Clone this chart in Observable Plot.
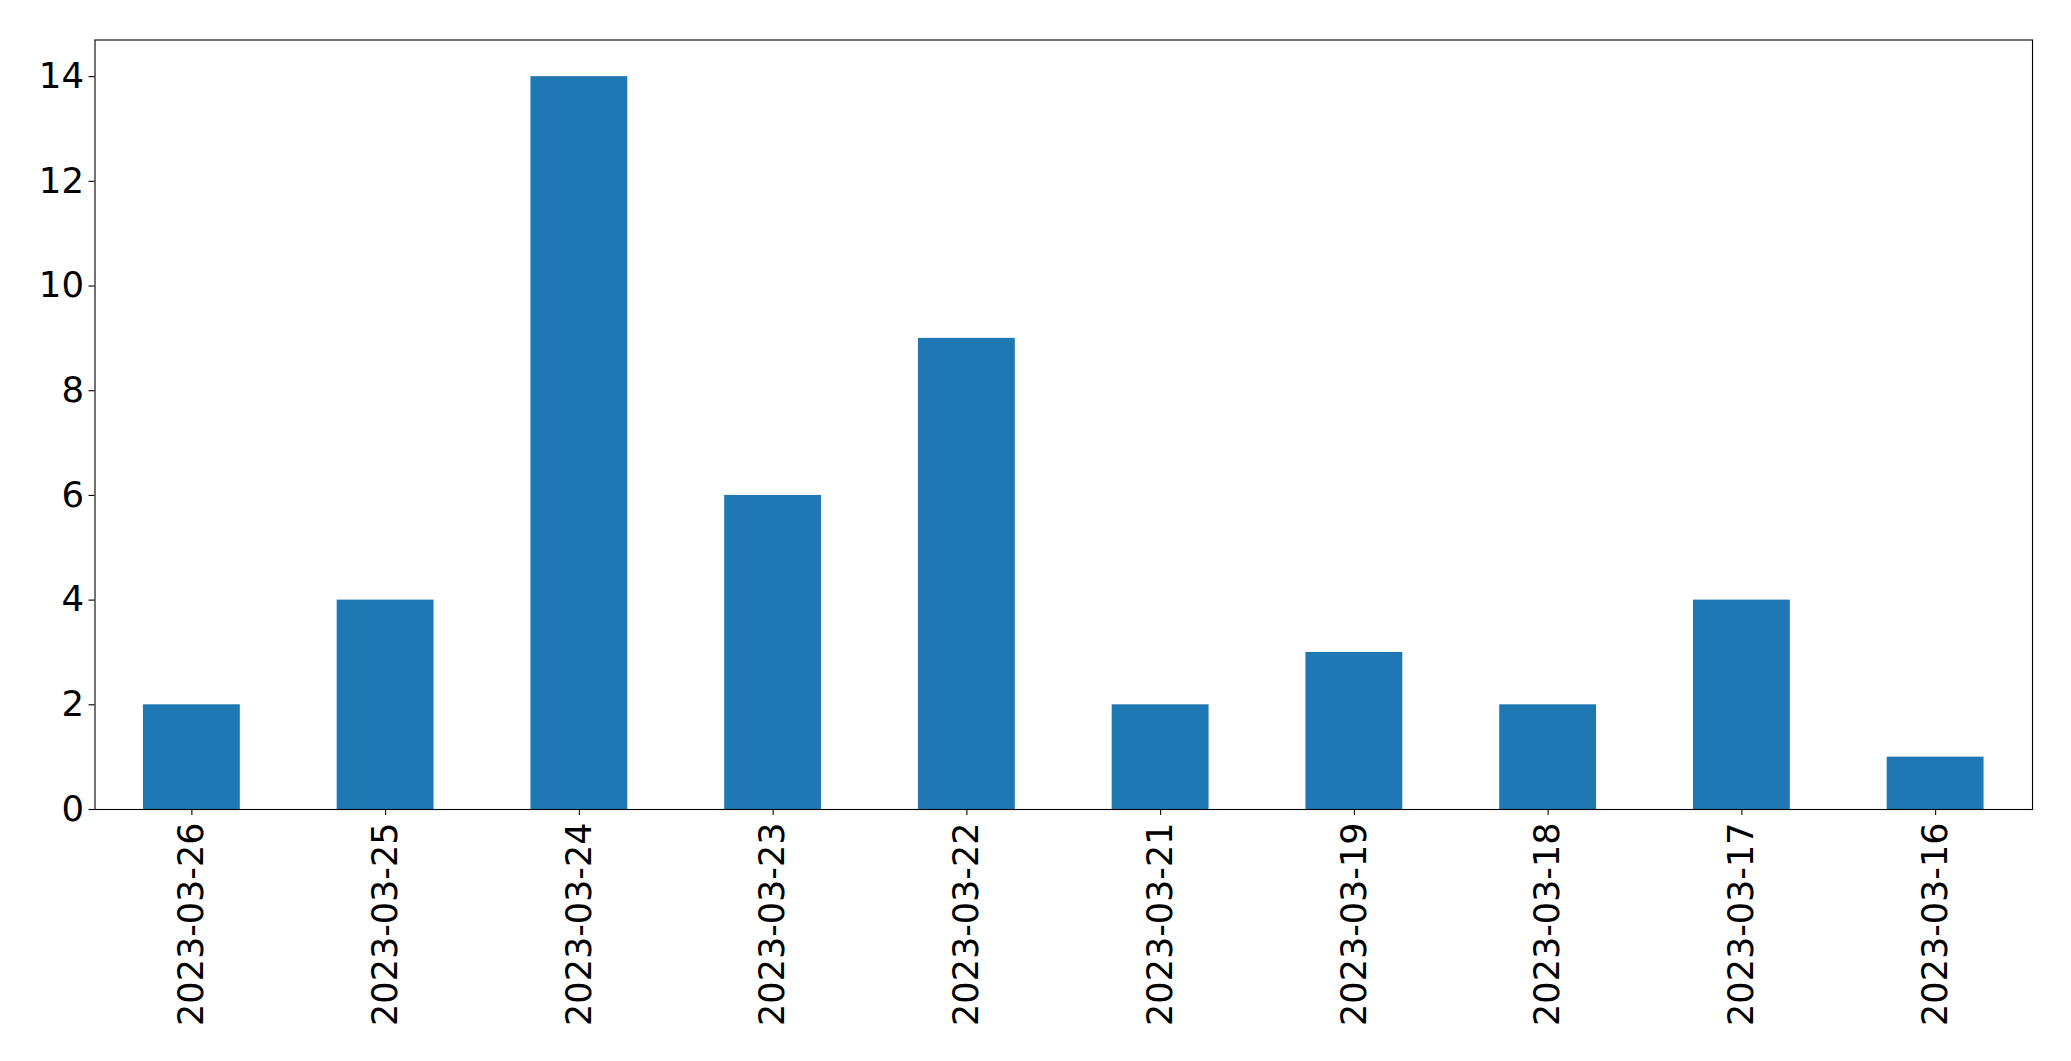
<!DOCTYPE html>
<html>
<head>
<meta charset="utf-8">
<script src="https://cdn.jsdelivr.net/npm/d3@7"></script>
<script src="https://cdn.jsdelivr.net/npm/@observablehq/plot@0.6"></script>
<style>
  html, body { margin: 0; padding: 0; background: #fff; }
  #chart svg { display: block; }
</style>
</head>
<body>
<div id="chart"></div>
<script>
const dates = ["2023-03-26","2023-03-25","2023-03-24","2023-03-23","2023-03-22","2023-03-21","2023-03-19","2023-03-18","2023-03-17","2023-03-16"];
const counts = [2, 4, 14, 6, 9, 2, 3, 2, 4, 1];
const yTicks = [0, 2, 4, 6, 8, 10, 12, 14];

const data = dates.map((d, i) => ({date: d, count: counts[i]}));

const chart = Plot.plot({
  width: 2071,
  height: 1061,
  marginLeft: 94.5,
  marginRight: 39,
  marginTop: 39.5,
  marginBottom: 252,
  style: {fontFamily: "DejaVu Sans", fontSize: "35px", color: "#000", background: "#fff"},
  x: {domain: dates, type: "band", paddingInner: 0.5, paddingOuter: 0.25, round: false, label: null},
  y: {domain: [0, 14.7], label: null},
  marks: [
    Plot.barY(data, {x: "date", y: "count", fill: "#1f77b4"}),
    Plot.axisY({ticks: yTicks, tickSize: 6, tickPadding: 5, fontSize: 35.5, label: null, strokeWidth: 1.1}),
    Plot.axisX({tickRotate: -90, tickSize: 6, tickPadding: 7, fontSize: 35, label: null, strokeWidth: 1.1}),
    Plot.frame({stroke: "#000", strokeWidth: 1.1})
  ]
});
document.getElementById("chart").appendChild(chart);
</script>
</body>
</html>
